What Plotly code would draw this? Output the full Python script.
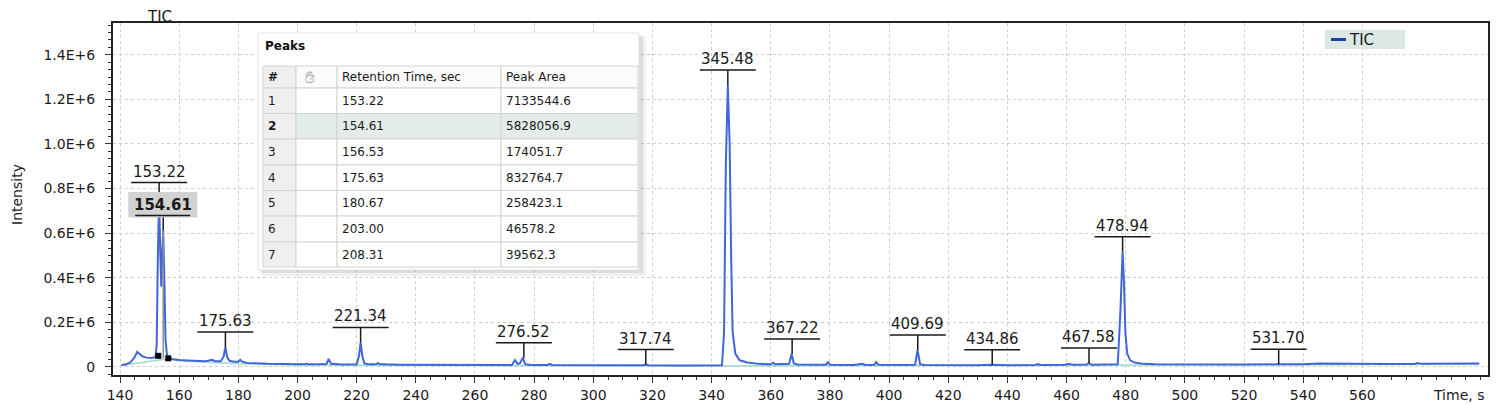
import plotly.graph_objects as go

# ---------------- data ----------------
tic_t = [140.5, 142, 143.5, 145, 145.8, 146.5, 147.5, 149, 150.5, 152, 152.4, 152.8, 153.22, 153.6, 153.95,
         154.3, 154.61, 155.0, 155.4, 155.9, 156.5, 158, 160, 163, 166, 169, 170.5, 171.2, 172, 174, 175,
         175.63, 176.2, 177, 178.5, 180, 180.67, 181.3, 183, 186, 190, 195, 200, 202.5, 203, 203.5, 208,
         208.31, 208.7, 209.8, 210.5, 211.4, 215, 220, 220.8, 221.34, 221.9, 222.6, 224, 226.5, 227.2, 228,
         235, 245, 255, 265, 272.5, 273.5, 274.4, 275.2, 276.2, 277.0, 279, 284.5, 285.3, 286, 300, 310,
         316.8, 317.74, 318.6, 330, 340, 343.5, 344.2, 344.8, 345.48, 346.1, 346.6, 347.1, 348, 349.5, 352,
         356, 360, 360.8, 361.5, 366.2, 367.0, 367.8, 369, 375, 378.6, 379.3, 380, 388, 391, 392, 395, 395.6,
         396.4, 405, 408.8, 409.6, 410.5, 412, 420, 430, 434.86, 440, 449.5, 450.3, 451.2, 459.5, 460.5, 462,
         466.8, 467.58, 468.4, 472, 477.3, 478.2, 478.94, 479.4, 479.9, 480.5, 481.5, 483, 486, 490, 500, 520,
         531.7, 540, 545.5, 555, 570, 577.5, 578.5, 580, 590, 599.5]
tic_i = [8000, 12000, 20000, 45000, 68000, 58000, 48000, 42000, 40000, 44000, 100000, 500000, 760000, 520000, 360000,
         520000, 612000, 380000, 120000, 50000, 40000, 35000, 31000, 29000, 27000, 26000, 30000, 32000, 26000, 26000, 45000,
         90000, 45000, 28000, 24000, 24000, 32000, 24000, 18000, 15000, 14000, 13000, 12000, 12000, 15000, 12000, 12000,
         14000, 12000, 13000, 36000, 14000, 11000, 12000, 50000, 110000, 50000, 16000, 12000, 12000, 17000, 12000,
         10000, 9000, 9000, 8000, 9000, 31000, 14000, 16000, 42000, 12000, 9000, 9000, 14000, 9000, 8000, 8000,
         8000, 11000, 8000, 7000, 7000, 8000, 150000, 900000, 1264000, 1000000, 500000, 160000, 60000, 30000, 20000,
         14000, 12000, 19000, 12000, 14000, 58000, 16000, 11000, 10000, 10000, 21000, 10000, 9000, 14000, 9000, 10000, 22000,
         10000, 9000, 10000, 76000, 12000, 9000, 8000, 8000, 10000, 8000, 9000, 13000, 9000, 10000, 14000, 10000,
         11000, 18000, 10000, 10000, 12000, 250000, 517000, 380000, 150000, 60000, 30000, 20000, 14000, 12000, 11000, 11000,
         12000, 12000, 16000, 14000, 13000, 13000, 18000, 14000, 15000, 16000]

base_t = [140.5, 144, 148, 152, 155, 158, 162, 170, 180, 200, 250, 300, 345, 400, 480, 540, 599.5]
base_i = [7000, 14000, 24000, 32000, 35000, 32000, 26000, 21000, 15000, 9000, 6000, 5000, 5000, 6000, 8000, 10000, 13000]

bound_t = [152.95, 156.3]
bound_i = [50000, 39000]

label_t = [153.22, 154.61, 175.63, 221.34, 276.52, 317.74, 345.48, 367.22, 409.69, 434.86, 467.58, 478.94, 531.70]
label_i = [760000, 612000, 90000, 110000, 42000, 11000, 1264000, 58000, 76000, 10000, 18000, 517000, 12000]
selected_peak = 154.61

x_tick_vals = [140, 160, 180, 200, 220, 240, 260, 280, 300, 320, 340, 360, 380, 400, 420, 440, 460, 480, 500, 520, 540, 560]
y_tick_vals = [0, 200000, 400000, 600000, 800000, 1000000, 1200000, 1400000]
y_tick_text = ['0', '0.2E+6', '0.4E+6', '0.6E+6', '0.8E+6', '1.0E+6', '1.2E+6', '1.4E+6']

table_no = [1, 2, 3, 4, 5, 6, 7]
table_rt = [153.22, 154.61, 156.53, 175.63, 180.67, 203.00, 208.31]
table_area = [7133544.6, 5828056.9, 174051.7, 832764.7, 258423.1, 46578.2, 39562.3]
table_headers = ['#', '', 'Retention Time, sec', 'Peak Area']
selected_row = 2
legend_name = 'TIC'

# ---------------- layout geometry (screen pixels; page has an 8px body margin) ----------------
OFF = 8
W, H = 1500 - OFF, 405 - OFF
PL, PR, PT, PB = 113, 1488, 23, 375          # plot area on screen
L, R, T, B = PL - OFF, 1500 - PR, PT - OFF, 405 - PB
PW, PH = PR - PL, PB - PT
FONT = 'DejaVu Sans'
LINE_COLOR = '#4166d8'


def px(x):
    return (x - PL) / PW


def py(y):
    return (PB - y) / PH


fig = go.Figure()
fig.add_trace(go.Scatter(x=base_t, y=base_i, mode='lines', line=dict(color='#a3d8d3', width=1.5),
                         showlegend=False, hoverinfo='skip'))
fig.add_trace(go.Scatter(x=tic_t, y=tic_i, mode='lines', name=legend_name, showlegend=False,
                         line=dict(color=LINE_COLOR, width=2)))
fig.add_trace(go.Scatter(x=bound_t, y=bound_i, mode='markers', showlegend=False,
                         marker=dict(symbol='square', size=6, color='black')))

shapes = []
annotations = []

# --- peaks table panel ---
shapes.append(dict(type='rect', xref='paper', yref='paper', x0=px(262), x1=px(646), y0=py(276), y1=py(37),
                   fillcolor='rgba(0,0,0,0.06)', line=dict(width=0), layer='above'))
shapes.append(dict(type='rect', xref='paper', yref='paper', x0=px(260), x1=px(643), y0=py(273), y1=py(35),
                   fillcolor='rgba(0,0,0,0.08)', line=dict(width=0), layer='above'))
shapes.append(dict(type='rect', xref='paper', yref='paper', x0=px(258), x1=px(639), y0=py(270), y1=py(33),
                   fillcolor='white', line=dict(color='#e2e2e2', width=1), layer='above'))
annotations.append(dict(xref='paper', yref='paper', x=px(263), y=py(46), text='<b>Peaks</b>', showarrow=False,
                        xanchor='left', yanchor='middle', font=dict(family=FONT, size=12, color='#111')))

col_edges = [263, 296, 337, 501, 638]
row_edges = [66, 88, 113.5, 139, 165, 190.5, 216, 242, 267]
for r in range(len(row_edges) - 1):
    for c in range(len(col_edges) - 1):
        if c == 0:
            fill = '#efefef'
        elif r == 0:
            fill = '#fbfbfb'
        elif r == selected_row:
            fill = '#e3ece8'
        else:
            fill = 'white'
        shapes.append(dict(type='rect', xref='paper', yref='paper', x0=px(col_edges[c]), x1=px(col_edges[c + 1]),
                           y0=py(row_edges[r + 1]), y1=py(row_edges[r]), fillcolor=fill,
                           line=dict(color='#d4d4d4', width=1), layer='above'))

tfont = dict(family=FONT, size=12, color='#1a1a1a')
hy = (row_edges[0] + row_edges[1]) / 2
for c, h in enumerate(table_headers):
    if h:
        annotations.append(dict(xref='paper', yref='paper', x=px(col_edges[c] + 3), y=py(hy),
                                text=('<b>#</b>' if h == '#' else h), showarrow=False, xanchor='left',
                                yanchor='middle', font=tfont))
annotations.append(dict(xref='paper', yref='paper', x=px(310), y=py(hy), text='\u270B\uFE0E', showarrow=False,
                        xanchor='center', yanchor='middle', font=dict(family=FONT, size=17, color='#a8a8a8')))
for i, (n, rt, ar) in enumerate(zip(table_no, table_rt, table_area)):
    yc = (row_edges[i + 1] + row_edges[i + 2]) / 2
    ntxt = f'<b>{n}</b>' if n == selected_row else str(n)
    annotations.append(dict(xref='paper', yref='paper', x=px(col_edges[0] + 3), y=py(yc), text=ntxt,
                            showarrow=False, xanchor='left', yanchor='middle', font=tfont))
    annotations.append(dict(xref='paper', yref='paper', x=px(col_edges[2] + 3), y=py(yc), text=f'{rt:.2f}',
                            showarrow=False, xanchor='left', yanchor='middle', font=tfont))
    annotations.append(dict(xref='paper', yref='paper', x=px(col_edges[3] + 3), y=py(yc), text=f'{ar:.1f}',
                            showarrow=False, xanchor='left', yanchor='middle', font=tfont))


# --- peak labels ---
def pline(xa, ya, x0, y0, x1, y1, color='#1a1a1a', width=1.5):
    return dict(type='line', xref='x', yref='y', xsizemode='pixel', ysizemode='pixel', xanchor=xa, yanchor=ya,
                x0=x0, x1=x1, y0=y0, y1=y1, line=dict(color=color, width=width), layer='above')


lfont = dict(family=FONT, size=15, color='#1a1a1a')
sel_idx = label_t.index(selected_peak)
sel_base = min(bound_i)
for t, a in zip(label_t, label_i):
    if t == selected_peak:
        continue
    shapes.append(pline(t, a, 0, 0, 0, 15))
    shapes.append(pline(t, a, -28, 15, 28, 15))
    annotations.append(dict(x=t, y=a, xref='x', yref='y', text=f'{t:.2f}', showarrow=False, yanchor='bottom',
                            yshift=15, font=lfont))

st, sa = label_t[sel_idx], label_i[sel_idx]
shapes.append(dict(type='line', xref='x', yref='y', x0=st, x1=st, y0=sel_base, y1=sa,
                   line=dict(color='#8d8d8d', width=1.5), layer='above'))
shapes.append(pline(st, sa, 0, 0, 0, 14))
shapes.append(dict(type='rect', xref='x', yref='y', xsizemode='pixel', ysizemode='pixel', xanchor=st, yanchor=sa,
                   x0=-35, x1=34, y0=13, y1=38.5, fillcolor='#d2d2d2', line=dict(width=0), layer='above'))
shapes.append(pline(st, sa, -28, 15, 27, 15))
annotations.append(dict(x=st, y=sa, xref='x', yref='y', text=f'<b>{st:.2f}</b>', showarrow=False,
                        yanchor='middle', yshift=26, font=lfont))

# --- legend box (drawn) ---
shapes.append(dict(type='rect', xref='paper', yref='paper', x0=px(1325), x1=px(1405), y0=py(49), y1=py(30),
                   fillcolor='#dde8e4', line=dict(width=0), layer='above'))
shapes.append(dict(type='line', xref='paper', yref='paper', x0=px(1331), x1=px(1346), y0=py(39.5), y1=py(39.5),
                   line=dict(color='#1d3fb5', width=3), layer='above'))
annotations.append(dict(xref='paper', yref='paper', x=px(1347), y=py(39.5), text=legend_name, showarrow=False,
                        xanchor='left', yanchor='middle', font=dict(family=FONT, size=15, color='#1a1a1a')))

# --- other texts ---
annotations.append(dict(xref='paper', yref='paper', x=px(17), y=py(195), text='Intensity', textangle=-90,
                        showarrow=False, xanchor='center', yanchor='middle',
                        font=dict(family=FONT, size=14, color='#1a1a1a')))
annotations.append(dict(xref='paper', yref='paper', x=px(1486), y=py(395), text='Time, s', showarrow=False,
                        xanchor='right', yanchor='middle', font=dict(family=FONT, size=14, color='#1a1a1a')))

axis_common = dict(showline=True, linecolor='#222', linewidth=2, mirror=True, ticks='outside', ticklen=6,
                   tickcolor='#333', tickwidth=1, showgrid=True, gridcolor='#cfcfcf', griddash='dot',
                   gridwidth=1, zeroline=False, tickfont=dict(family=FONT, size=14, color='#1a1a1a'))

fig.update_layout(
    width=W, height=H, margin=dict(l=L, r=R, t=T, b=B, autoexpand=False),
    paper_bgcolor='white', plot_bgcolor='white',
    title=dict(text='TIC', x=(160 - OFF) / W, xanchor='center', y=1 - (17 - OFF) / H, yanchor='middle',
               font=dict(family=FONT, size=15, color='#1a1a1a')),
    xaxis=dict(range=[137.63, 602.47], tickvals=x_tick_vals, ticktext=[str(v) for v in x_tick_vals],
               minor=dict(dtick=5, tick0=140, ticks='outside', ticklen=3, tickcolor='#333', showgrid=False),
               **axis_common),
    yaxis=dict(range=[-35900, 1542500], tickvals=y_tick_vals, ticktext=y_tick_text, ticklabelstandoff=7,
               minor=dict(dtick=200000 / 6, tick0=0, ticks='outside', ticklen=3, tickcolor='#333', showgrid=False),
               **axis_common),
    shapes=shapes, annotations=annotations, showlegend=False,
)

fig.write_html('out.html')
